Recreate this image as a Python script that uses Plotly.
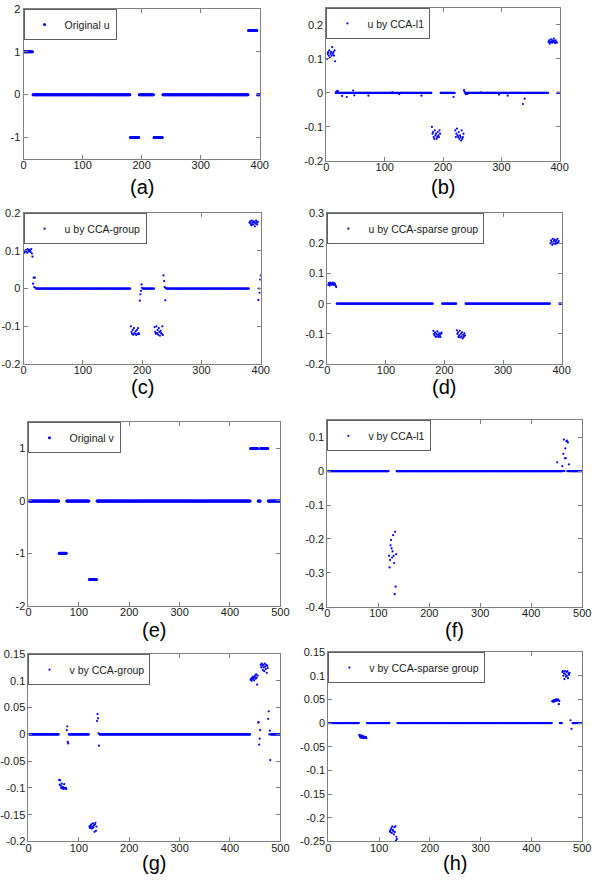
import plotly.graph_objects as go

# ---------------- data ----------------
# u: 400 coefficients, groups starting at these indices (15 each)
u_group_starts = [1, 181, 221, 381]
u_true_levels = [1.0, -1.0, -1.0, 1.5]
u_zero_runs = [(16, 180), (196, 220), (236, 380), (396, 400)]

ub_groups = [
    [0.10, 0.115, 0.12, 0.11, 0.125, 0.105, 0.115, 0.12, 0.11, 0.135, 0.115, 0.12, 0.11, 0.125, 0.093],
    [-0.10, -0.12, -0.115, -0.13, -0.135, -0.11, -0.125, -0.12, -0.135, -0.13, -0.115, -0.125, -0.13, -0.11, -0.12],
    [-0.11, -0.13, -0.12, -0.105, -0.125, -0.13, -0.115, -0.135, -0.125, -0.13, -0.14, -0.11, -0.135, -0.13, -0.12],
    [0.15, 0.155, 0.145, 0.15, 0.158, 0.152, 0.148, 0.155, 0.15, 0.16, 0.153, 0.147, 0.155, 0.15, 0.148],
]
ub_extra = {17: 0.004, 19: 0.006, 20: 0.003, 27: -0.009, 35: -0.012, 46: 0.007, 48: -0.007,
            72: -0.008, 113: 0.002, 125: -0.004, 163: -0.008, 218: -0.012, 236: 0.008,
            237: 0.003, 239: -0.004, 242: -0.003, 265: 0.002, 296: -0.005, 311: -0.008,
            337: -0.033, 340: -0.017}

uc_zero_runs = [(21, 180), (201, 220), (241, 380)]
uc_groups = [
    [0.095, 0.1, 0.098, 0.102, 0.1, 0.095, 0.105, 0.1, 0.098, 0.103, 0.1, 0.097, 0.105, 0.093, 0.085],
    [-0.1, -0.115, -0.12, -0.11, -0.122, -0.105, -0.118, -0.12, -0.113, -0.123, -0.11, -0.12, -0.105, -0.118, -0.121],
    [-0.102, -0.115, -0.12, -0.1, -0.118, -0.11, -0.122, -0.105, -0.115, -0.125, -0.112, -0.118, -0.12, -0.1, -0.123],
    [0.175, 0.178, 0.172, 0.168, 0.18, 0.175, 0.17, 0.178, 0.176, 0.165, 0.172, 0.18, 0.175, 0.17, 0.177],
]
uc_extra = {16: 0.013, 17: 0.029, 18: 0.004, 19: 0.029, 20: 0.002,
            196: -0.032, 197: -0.015, 198: -0.006, 199: 0.011, 200: 0.002,
            236: 0.035, 237: 0.02, 238: 0.004, 239: -0.031, 240: 0.001,
            396: -0.03, 397: 0.0, 398: -0.011, 399: 0.024, 400: 0.035}

ud_groups = [
    [0.062, 0.068, 0.065, 0.06, 0.07, 0.066, 0.063, 0.068, 0.064, 0.07, 0.062, 0.067, 0.065, 0.06, 0.055],
    [-0.09, -0.1, -0.105, -0.095, -0.11, -0.1, -0.108, -0.092, -0.103, -0.11, -0.098, -0.105, -0.11, -0.1, -0.096],
    [-0.088, -0.1, -0.095, -0.11, -0.105, -0.09, -0.112, -0.1, -0.108, -0.095, -0.115, -0.103, -0.11, -0.098, -0.105],
    [0.2, 0.21, 0.205, 0.195, 0.215, 0.2, 0.208, 0.212, 0.198, 0.205, 0.21, 0.2, 0.215, 0.202, 0.207],
]

# v: 500 coefficients
v_group_starts = [61, 121, 441, 461]
v_true_levels = [-1.0, -1.5, 1.0, 1.0]
v_zero_runs = [(1, 60), (76, 120), (136, 440), (456, 460), (476, 500)]

vf_zero_runs = [(1, 120), (136, 500)]
vf_group2 = [-0.25, -0.284, -0.262, -0.219, -0.203, -0.228, -0.255, -0.237, -0.189, -0.25,
             -0.271, -0.363, -0.179, -0.341, -0.245]
vf_extra = {451: 0.026, 461: 0.015, 463: 0.051, 464: 0.093, 466: 0.038, 467: 0.067,
            468: 0.038, 469: 0.088, 470: 0.09, 472: 0.085, 474: 0.02}

vg_zero_runs = [(1, 60), (81, 120), (141, 440), (481, 500)]
vg_groups = [
    [-0.085, -0.094, -0.086, -0.096, -0.1, -0.092, -0.101, -0.098, -0.1, -0.102, -0.093, -0.1, -0.101, -0.1, -0.102],
    [-0.172, -0.175, -0.17, -0.173, -0.168, -0.176, -0.172, -0.166, -0.174, -0.17, -0.182, -0.168, -0.165, -0.18, -0.172],
    [0.102, 0.104, 0.1, 0.106, 0.103, 0.108, 0.105, 0.101, 0.107, 0.11, 0.104, 0.112, 0.106, 0.093, 0.11],
    [0.13, 0.125, 0.132, 0.128, 0.12, 0.13, 0.125, 0.118, 0.132, 0.127, 0.122, 0.13, 0.115, 0.128, 0.124],
]
vg_extra = {76: 0.008, 77: 0.015, 78: -0.014, 79: -0.017, 80: 0.0,
            136: 0.025, 137: 0.038, 138: 0.03, 139: 0.002, 140: -0.021,
            456: 0.022, 457: 0.023, 458: -0.019, 459: -0.008, 460: 0.008,
            476: 0.029, 477: 0.043, 478: 0.0, 479: 0.007, 480: -0.048}

vh_zero_runs = [(1, 60), (76, 120), (136, 440), (456, 460), (481, 500)]
vh_groups = [
    [-0.025, -0.028, -0.03, -0.026, -0.031, -0.028, -0.03, -0.027, -0.032, -0.029, -0.03, -0.031, -0.029, -0.03, -0.032],
    [-0.228, -0.23, -0.225, -0.222, -0.232, -0.218, -0.226, -0.228, -0.235, -0.22, -0.23, -0.218, -0.248, -0.24, -0.245],
    [0.046, 0.047, 0.045, 0.048, 0.046, 0.049, 0.047, 0.048, 0.05, 0.047, 0.049, 0.05, 0.048, 0.04, 0.047],
    [0.108, 0.11, 0.1, 0.105, 0.093, 0.11, 0.103, 0.098, 0.108, 0.1, 0.11, 0.095, 0.105, 0.102, 0.106],
]
vh_extra = {477: 0.006, 479: -0.012}

names = ["Original u", "u by CCA-l1", "u by CCA-group", "u by CCA-sparse group",
         "Original v", "v by CCA-l1", "v by CCA-group", "v by CCA-sparse group"]
labels = ["(a)", "(b)", "(c)", "(d)", "(e)", "(f)", "(g)", "(h)"]

u_xticks = [0, 100, 200, 300, 400]
v_xticks = [0, 100, 200, 300, 400, 500]
y_ticks = [
    [-1, 0, 1, 2],
    [-0.2, -0.1, 0, 0.1, 0.2],
    [-0.2, -0.1, 0, 0.1, 0.2],
    [-0.2, -0.1, 0, 0.1, 0.2, 0.3],
    [-2, -1, 0, 1],
    [-0.4, -0.3, -0.2, -0.1, 0, 0.1],
    [-0.2, -0.15, -0.1, -0.05, 0, 0.05, 0.1, 0.15],
    [-0.25, -0.2, -0.15, -0.1, -0.05, 0, 0.05, 0.1, 0.15],
]
y_ranges = [[-1.5, 2], [-0.2, 0.25], [-0.2, 0.2], [-0.2, 0.3],
            [-2, 1.5], [-0.4, 0.15], [-0.2, 0.15], [-0.25, 0.15]]


# ---------------- helpers ----------------
def build(zero_runs, starts, groups, extra=None):
    pts = {}
    for a, b in zero_runs:
        for i in range(a, b + 1):
            pts[i] = 0.0
    for s, vals in zip(starts, groups):
        for k, v in enumerate(vals):
            pts[s + k] = v
    if extra:
        pts.update(extra)
    xs = sorted(pts)
    return xs, [pts[i] for i in xs]


def levels_to_groups(levels):
    return [[lv] * 15 for lv in levels]


def fmt(v):
    return "%g" % v


series = [
    build(u_zero_runs, u_group_starts, levels_to_groups(u_true_levels)),
    build(u_zero_runs, u_group_starts, ub_groups, ub_extra),
    build(uc_zero_runs, u_group_starts, uc_groups, uc_extra),
    build(u_zero_runs, u_group_starts, ud_groups),
    build(v_zero_runs, v_group_starts, levels_to_groups(v_true_levels)),
    build(vf_zero_runs, [121], [vf_group2], vf_extra),
    build(vg_zero_runs, v_group_starts, vg_groups, vg_extra),
    build(vh_zero_runs, v_group_starts, vh_groups, vh_extra),
]

# ---------------- layout (pixel boxes) ----------------
W, H = 600, 882
boxes = [  # x0, x1, ytop, ybottom in pixels
    (21, 262, 3, 155), (330, 568, 2, 157),
    (21, 263, 210, 363), (331, 570, 210, 363),
    (26, 283, 422, 608), (331, 591, 420, 609),
    (26, 283, 657, 847), (332, 591, 655, 847),
]
label_y = [184, 184, 386, 386, 633, 633, 869, 869]

fig = go.Figure()
layout = dict(width=W, height=H, margin=dict(l=0, r=0, t=0, b=0),
              paper_bgcolor="white", plot_bgcolor="white",
              font=dict(family="Liberation Sans, Arial", size=11, color="#1a1a1a"),
              annotations=[])

for i in range(8):
    xs, ys = series[i]
    ax = "" if i == 0 else str(i + 1)
    lg = "legend" if i == 0 else "legend%d" % (i + 1)
    fig.add_trace(go.Scatter(
        x=xs, y=ys, mode="markers", name=names[i],
        marker=dict(color="#0000ff", size=3 if i in (0, 4) else 2.2, line=dict(width=0)),
        xaxis="x" + ax, yaxis="y" + ax, legend=lg, showlegend=True, hoverinfo="skip"))
    x0, x1, yt, yb = boxes[i]
    dx = [x0 / W, x1 / W]
    dy = [1 - yb / H, 1 - yt / H]
    xt = u_xticks if i < 4 else v_xticks
    common = dict(showline=True, linecolor="#808080", linewidth=1, mirror="allticks",
                  ticks="inside", ticklen=4, tickcolor="#808080", showgrid=False,
                  zeroline=False, tickfont=dict(size=11, color="#1a1a1a"))
    layout["xaxis" + ax] = dict(domain=dx, range=[0, xt[-1]], tickvals=xt,
                                ticktext=[fmt(t) for t in xt], ticklabelstandoff=-4,
                                anchor="y" + ax, **common)
    layout["yaxis" + ax] = dict(domain=dy, range=y_ranges[i], tickvals=y_ticks[i],
                                ticktext=[fmt(t) for t in y_ticks[i]],
                                anchor="x" + ax, **common)
    layout[lg] = dict(x=dx[0], y=dy[1], xanchor="left", yanchor="top",
                      bgcolor="white", bordercolor="#606060", borderwidth=1,
                      font=dict(size=10.5, color="#1a1a1a"),
                      itemsizing="trace", tracegroupgap=0)
    layout["annotations"].append(dict(
        text=labels[i], x=(x0 + x1) / 2 / W, y=1 - label_y[i] / H,
        xref="paper", yref="paper", showarrow=False,
        font=dict(size=20, color="black"), xanchor="center", yanchor="middle"))

fig.update_layout(**layout)
fig.write_html("out.html", config={"displayModeBar": False},
               post_script="document.body.style.margin='0';document.body.style.overflow='hidden';")
